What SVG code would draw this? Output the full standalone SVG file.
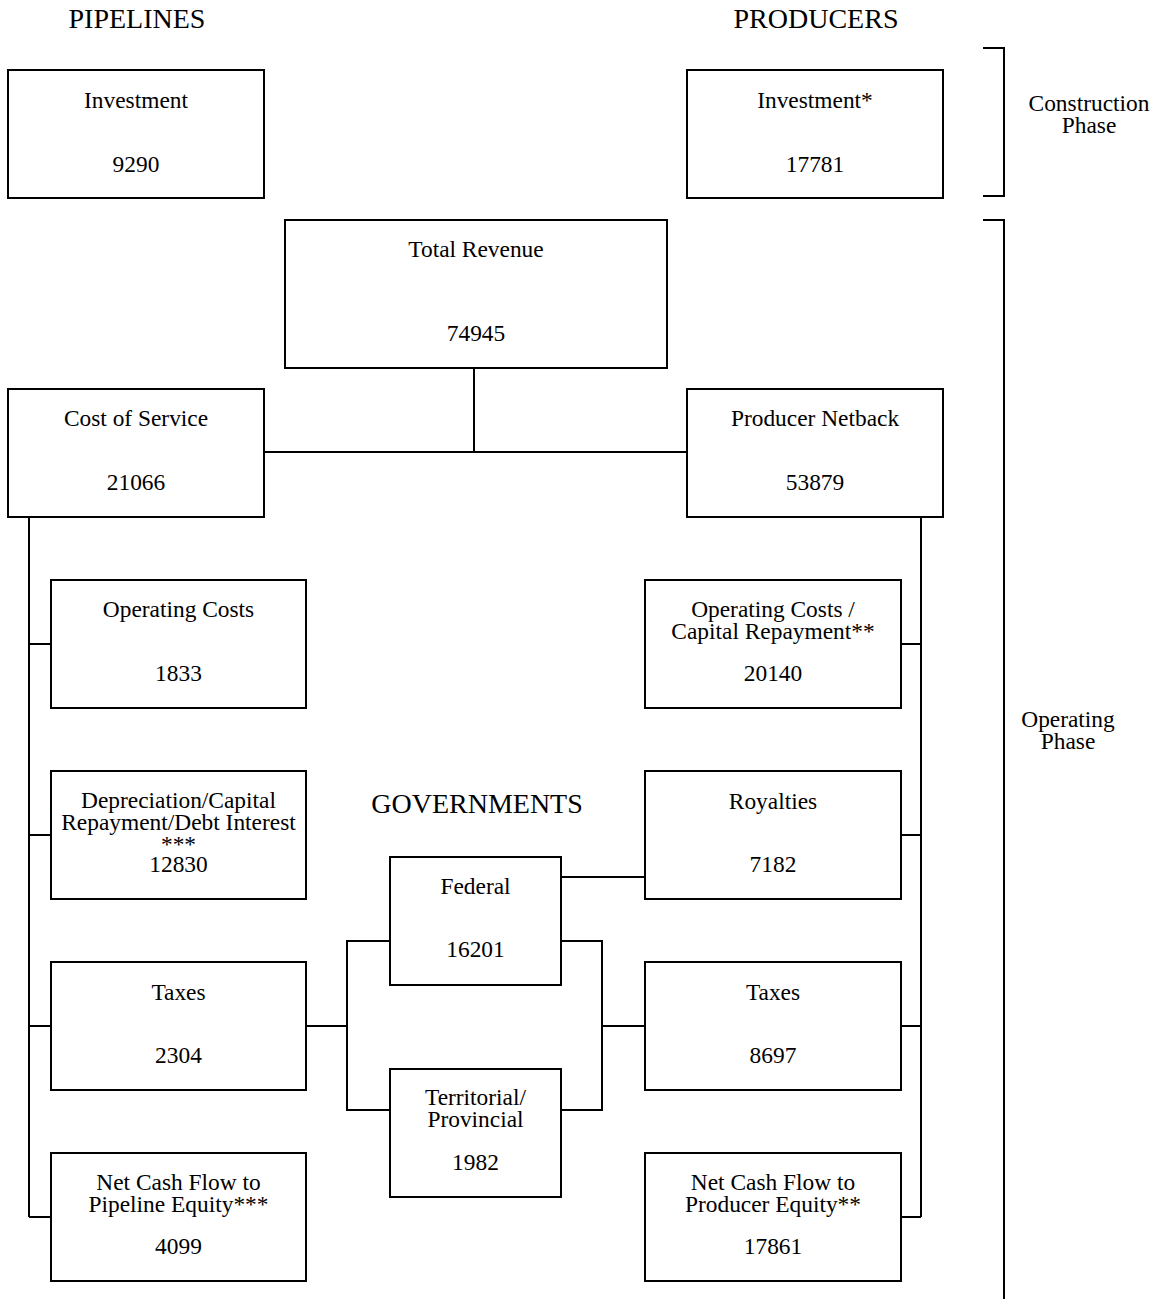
<svg xmlns="http://www.w3.org/2000/svg" width="1161" height="1299" viewBox="0 0 1161 1299">
<style>
.box{fill:#fff;stroke:#000;stroke-width:2}
.ln{fill:none;stroke:#000;stroke-width:2}
text{font-family:"Liberation Serif","Times New Roman",serif;fill:#000;text-anchor:middle}
.t{font-size:23.4px}
.h{font-size:28px}
</style>
<rect width="1161" height="1299" fill="#fff"/>
<g id="headers">
<text class="h" x="137" y="28">PIPELINES</text>
<text class="h" x="816" y="28">PRODUCERS</text>
<text class="h" x="477" y="813">GOVERNMENTS</text>
</g>
<g id="phases">
<path class="ln" d="M983 48 H1004 V196 H983"/>
<text class="t" x="1089" y="111">Construction</text>
<text class="t" x="1089" y="133">Phase</text>
<path class="ln" d="M983 220 H1004 V1299"/>
<text class="t" x="1068" y="727">Operating</text>
<text class="t" x="1068" y="749">Phase</text>
</g>
<g id="connectors">
<path class="ln" d="M474 368 V452"/>
<path class="ln" d="M264 452 H687"/>
<path class="ln" d="M29 517 V1217"/>
<path class="ln" d="M29 644 H51 M29 835 H51 M29 1026 H51 M29 1217 H51"/>
<path class="ln" d="M921 517 V1217"/>
<path class="ln" d="M901 644 H921 M901 835 H921 M901 1026 H921 M901 1217 H921"/>
<path class="ln" d="M561 877 H645"/>
<path class="ln" d="M390 941 H347 V1110 H390 M306 1026 H347"/>
<path class="ln" d="M561 941 H602 V1110 H561 M602 1026 H645"/>
</g>
<g id="pipe-investment"><rect class="box" x="8" y="70" width="256" height="128"/><text class="t" x="136" y="108">Investment</text><text class="t" x="136" y="172">9290</text></g>
<g id="prod-investment"><rect class="box" x="687" y="70" width="256" height="128"/><text class="t" x="815" y="108">Investment*</text><text class="t" x="815" y="172">17781</text></g>
<g id="total-revenue"><rect class="box" x="285" y="220" width="382" height="148"/><text class="t" x="476" y="257">Total Revenue</text><text class="t" x="476" y="341">74945</text></g>
<g id="cost-of-service"><rect class="box" x="8" y="389" width="256" height="128"/><text class="t" x="136" y="426">Cost of Service</text><text class="t" x="136" y="490">21066</text></g>
<g id="producer-netback"><rect class="box" x="687" y="389" width="256" height="128"/><text class="t" x="815" y="426">Producer Netback</text><text class="t" x="815" y="490">53879</text></g>
<g id="pipe-opcosts"><rect class="box" x="51" y="580" width="255" height="128"/><text class="t" x="178.5" y="617">Operating Costs</text><text class="t" x="178.5" y="681">1833</text></g>
<g id="prod-opcosts"><rect class="box" x="645" y="580" width="256" height="128"/><text class="t" x="773" y="617">Operating Costs /</text><text class="t" x="773" y="639">Capital Repayment**</text><text class="t" x="773" y="681">20140</text></g>
<g id="pipe-depreciation"><rect class="box" x="51" y="771" width="255" height="128"/><text class="t" x="178.5" y="808">Depreciation/Capital</text><text class="t" x="178.5" y="830">Repayment/Debt Interest</text><text class="t" x="178.5" y="852">***</text><text class="t" x="178.5" y="872">12830</text></g>
<g id="royalties"><rect class="box" x="645" y="771" width="256" height="128"/><text class="t" x="773" y="809">Royalties</text><text class="t" x="773" y="872">7182</text></g>
<g id="federal"><rect class="box" x="390" y="857" width="171" height="128"/><text class="t" x="475.5" y="894">Federal</text><text class="t" x="475.5" y="957">16201</text></g>
<g id="pipe-taxes"><rect class="box" x="51" y="962" width="255" height="128"/><text class="t" x="178.5" y="1000">Taxes</text><text class="t" x="178.5" y="1063">2304</text></g>
<g id="prod-taxes"><rect class="box" x="645" y="962" width="256" height="128"/><text class="t" x="773" y="1000">Taxes</text><text class="t" x="773" y="1063">8697</text></g>
<g id="territorial"><rect class="box" x="390" y="1069" width="171" height="128"/><text class="t" x="475.5" y="1105">Territorial/</text><text class="t" x="475.5" y="1127">Provincial</text><text class="t" x="475.5" y="1170">1982</text></g>
<g id="pipe-netcash"><rect class="box" x="51" y="1153" width="255" height="128"/><text class="t" x="178.5" y="1190">Net Cash Flow to</text><text class="t" x="178.5" y="1212">Pipeline Equity***</text><text class="t" x="178.5" y="1254">4099</text></g>
<g id="prod-netcash"><rect class="box" x="645" y="1153" width="256" height="128"/><text class="t" x="773" y="1190">Net Cash Flow to</text><text class="t" x="773" y="1212">Producer Equity**</text><text class="t" x="773" y="1254">17861</text></g>
</svg>
